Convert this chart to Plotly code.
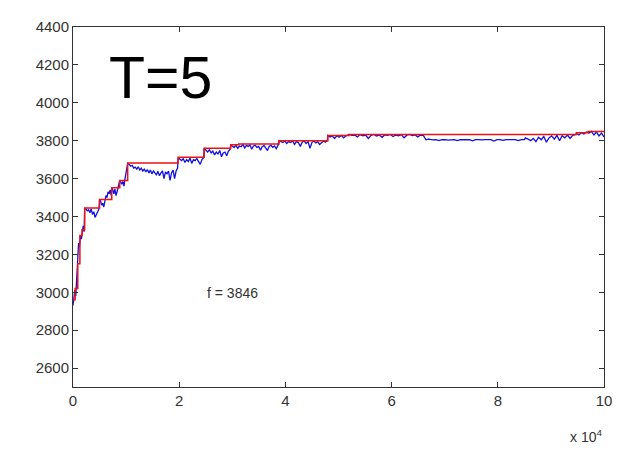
import numpy as np
import plotly.graph_objects as go

# Red: best-so-far (step function), x in units of 1e4
red_x = [0, 0.04, 0.09, 0.13, 0.17, 0.22, 0.50, 0.73, 0.88, 1.03, 1.98, 2.47, 2.97, 3.12, 3.88, 4.80, 5.20, 9.48, 9.70, 10.0]
red_y = [2960, 3020, 3150, 3300, 3330, 3445, 3490, 3552, 3590, 3682, 3712, 3760, 3778, 3782, 3800, 3828, 3833, 3842, 3849, 3849]

# Blue: current value, segments (start, end)
blue_segments = [
    (0.00, 0.21, [2930, 2990, 3010, 2980, 3100, 3180, 3260, 3240, 3300, 3280, 3330, 3350, 3320]),
    (0.22, 0.49, [3445, 3440, 3430, 3435, 3420, 3440, 3410, 3425, 3395, 3410, 3430, 3440]),
    (0.50, 0.72, [3490, 3480, 3460, 3470, 3450, 3480, 3510, 3500, 3530, 3520, 3540, 3510]),
    (0.73, 0.87, [3552, 3540, 3520, 3545, 3510, 3530, 3560, 3570]),
    (0.88, 1.02, [3590, 3580, 3570, 3585, 3560, 3600, 3640, 3670]),
    (1.03, 1.97, [3680, 3675, 3665, 3670, 3655, 3660, 3650, 3662, 3645, 3655, 3640, 3650,
                  3635, 3648, 3630, 3645, 3625, 3640, 3632, 3620, 3638, 3615, 3630, 3640,
                  3600, 3635, 3625, 3640, 3590, 3630, 3645, 3600, 3640, 3655]),
    (1.98, 2.46, [3710, 3700, 3695, 3705, 3685, 3700, 3690, 3708, 3680, 3700, 3695, 3705,
                  3690, 3675, 3700, 3710]),
    (2.47, 2.96, [3760, 3750, 3740, 3752, 3735, 3745, 3725, 3740, 3730, 3748, 3715, 3735,
                  3740, 3720, 3745, 3755]),
    (2.97, 3.86, [3778, 3770, 3765, 3775, 3760, 3772, 3768, 3780, 3762, 3775, 3770, 3778,
                  3755, 3772, 3776, 3765, 3770, 3750, 3768, 3775, 3760, 3748, 3770, 3776,
                  3765, 3772, 3758, 3775]),
    (3.88, 4.79, [3800, 3795, 3790, 3798, 3785, 3795, 3790, 3800, 3780, 3795, 3790, 3770,
                  3792, 3798, 3785, 3795, 3760, 3790, 3798, 3788, 3795, 3780, 3790, 3798,
                  3792, 3800]),
    (4.80, 5.18, [3828, 3820, 3825, 3812, 3826, 3818, 3828, 3815, 3825, 3828]),
    (5.20, 6.70, [3833, 3828, 3830, 3820, 3832, 3826, 3830, 3812, 3828, 3833, 3825, 3830,
                  3818, 3831, 3828, 3833, 3822, 3830, 3826, 3832, 3815, 3829, 3833, 3827,
                  3831, 3820, 3830, 3828, 3805, 3808]),
    (6.72, 8.50, [3806, 3804, 3806, 3800, 3805, 3806, 3803, 3806, 3806, 3800, 3806, 3805,
                  3806, 3806, 3799, 3806, 3806, 3804, 3806, 3806, 3806, 3798, 3806, 3806,
                  3802, 3806, 3806, 3806, 3806, 3800, 3806, 3806]),
    (8.52, 9.46, [3815, 3808, 3800, 3812, 3795, 3818, 3805, 3822, 3792, 3815, 3825, 3808,
                  3828, 3800, 3826, 3815, 3830, 3812, 3828, 3832]),
    (9.48, 10.0, [3838, 3830, 3842, 3835, 3846, 3840, 3849, 3830, 3845, 3825, 3840, 3820]),
]

x_ticks = [0, 2, 4, 6, 8, 10]
y_ticks = [2600, 2800, 3000, 3200, 3400, 3600, 3800, 4000, 4200, 4400]

blue_x, blue_y = [], []
for a, b, vals in blue_segments:
    blue_x.extend(np.linspace(a, b, len(vals)).tolist())
    blue_y.extend(vals)

fig = go.Figure()
fig.add_trace(go.Scatter(x=blue_x, y=blue_y, mode="lines",
                         line=dict(color="#1010e0", width=1.3), showlegend=False))
fig.add_trace(go.Scatter(x=red_x, y=red_y, mode="lines", line_shape="hv",
                         line=dict(color="#ee1111", width=1.5), showlegend=False))

axis_common = dict(showgrid=False, zeroline=False, showline=True, mirror="ticks",
                   linecolor="#333333", linewidth=1, ticks="inside", ticklen=5,
                   tickcolor="#333333",
                   tickfont=dict(family="Liberation Sans, Arial", size=15, color="#333333"))
fig.update_xaxes(range=[0, 10], tickvals=x_ticks, ticktext=[str(t) for t in x_ticks], **axis_common)
fig.update_yaxes(range=[2500, 4400], tickvals=y_ticks, ticktext=[str(t) for t in y_ticks], **axis_common)

fig.add_annotation(x=0.165, y=0.857, xref="paper", yref="paper", xanchor="center", yanchor="middle",
                   text="T=5", showarrow=False,
                   font=dict(family="Liberation Sans, Arial", size=59, color="black"))
fig.add_annotation(x=3.0, y=2995, xref="x", yref="y", text="f = 3846", showarrow=False,
                   font=dict(family="Liberation Sans, Arial", size=14, color="#333333"))
fig.add_annotation(x=1.0, y=-0.135, xref="paper", yref="paper", xanchor="right", yanchor="middle",
                   text="x 10<sup>4</sup>", showarrow=False,
                   font=dict(family="Liberation Sans, Arial", size=14, color="#333333"))

# page body has an 8px margin, so the figure is offset by 8px
fig.update_layout(width=614, height=437, margin=dict(l=65, r=14, t=10, b=58),
                  plot_bgcolor="white", paper_bgcolor="white")
fig.write_html("out.html")
